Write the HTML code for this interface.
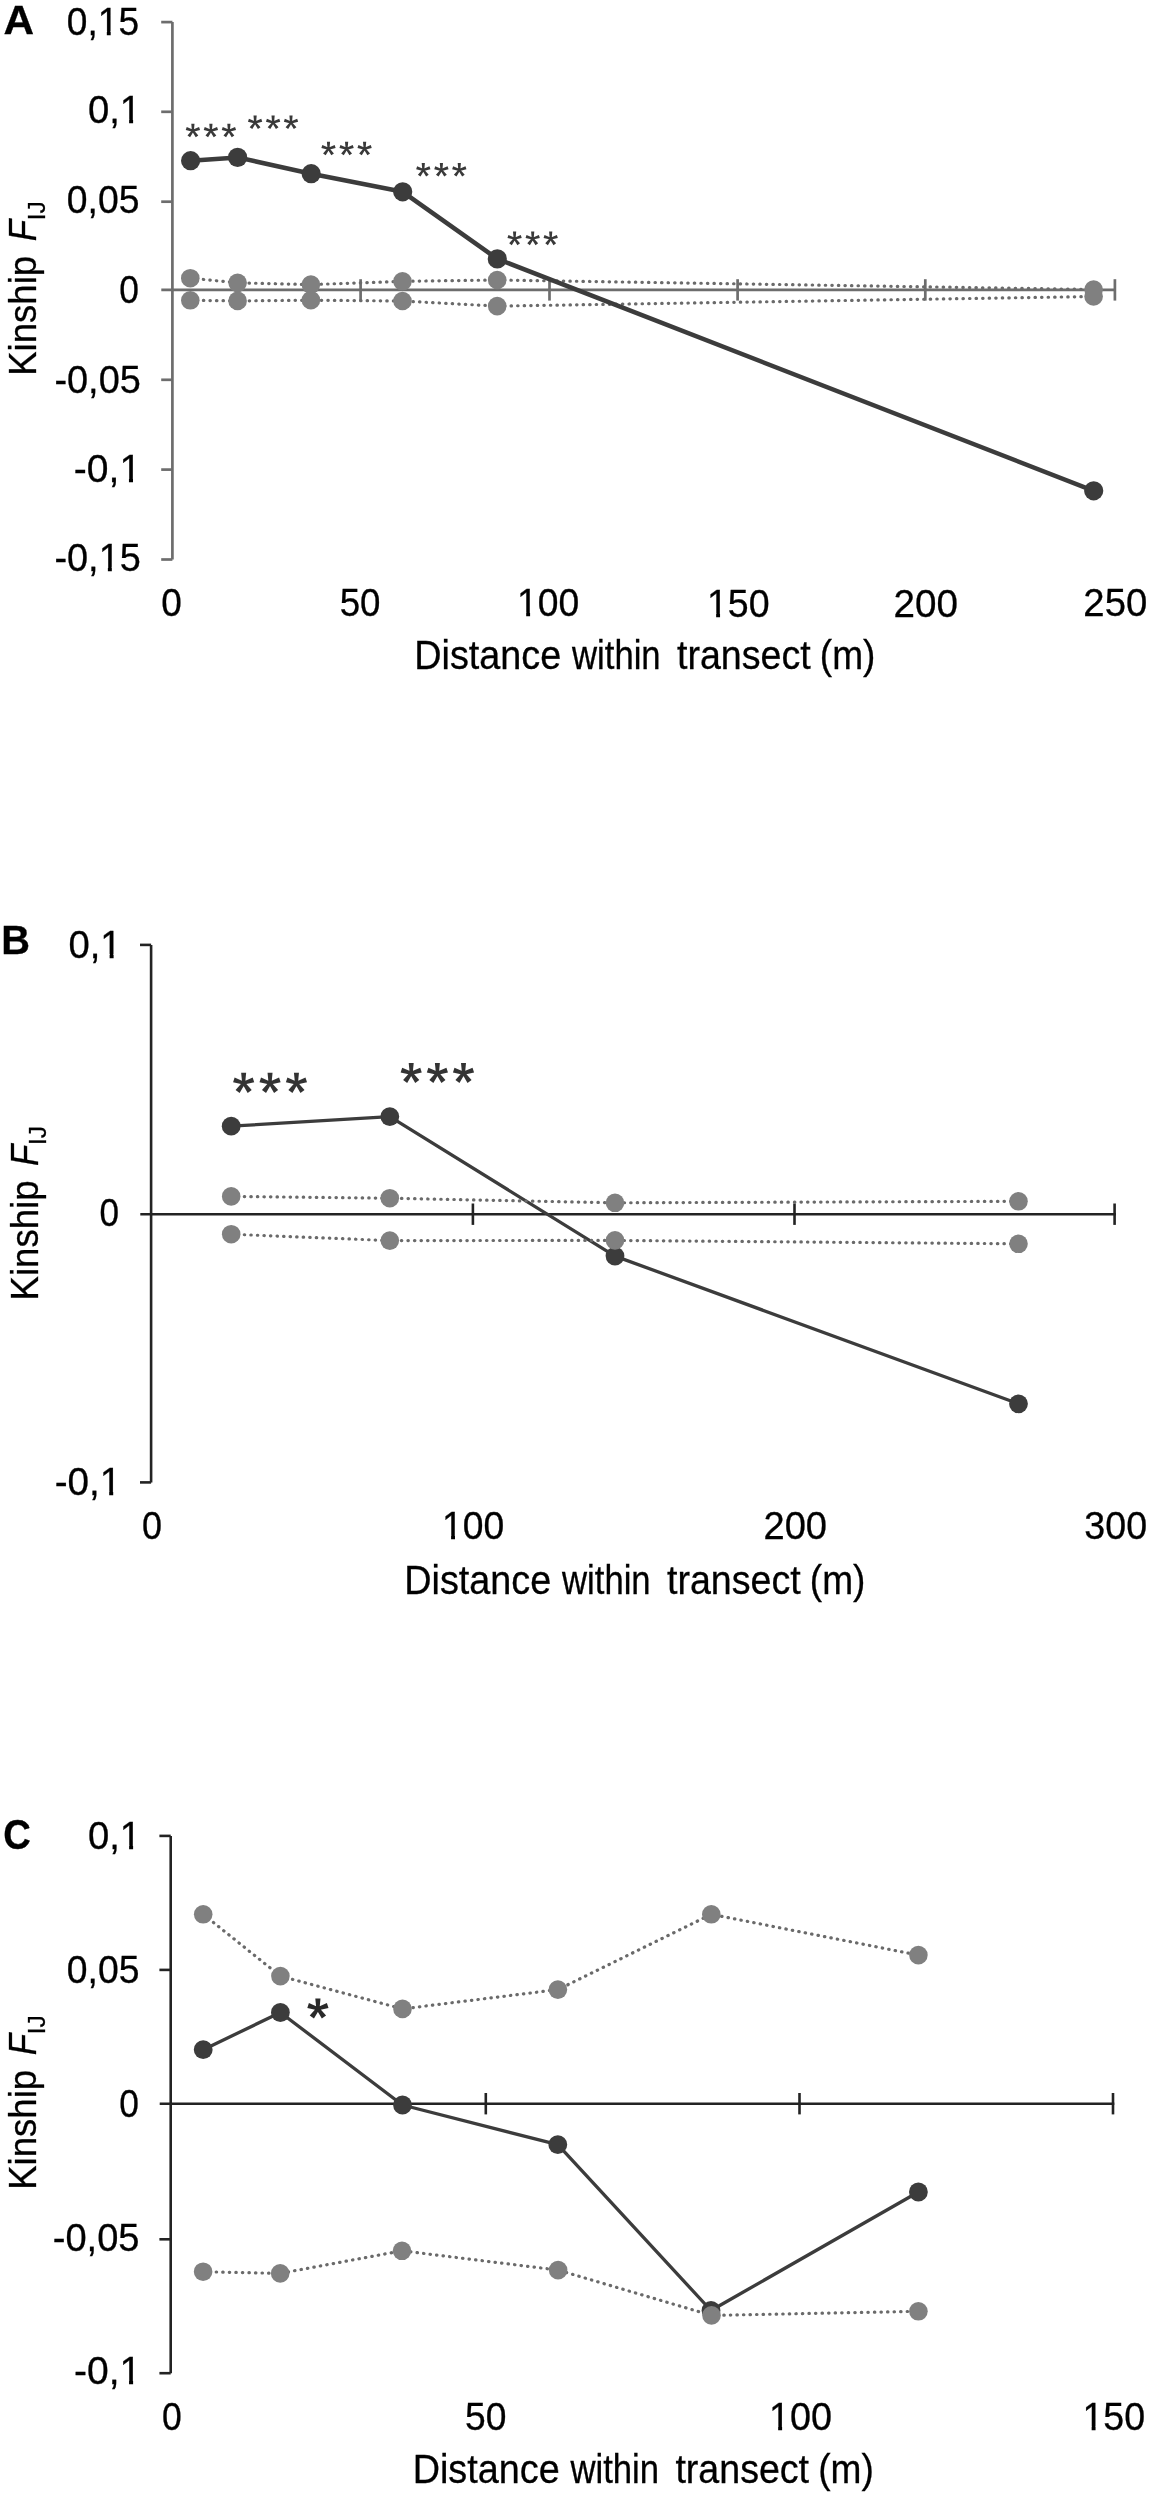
<!DOCTYPE html>
<html><head><meta charset="utf-8"><title>Kinship FIJ vs distance</title><style>
html,body{margin:0;padding:0;background:#fff;width:1154px;height:2500px;overflow:hidden;}
svg{display:block;filter:grayscale(1) blur(0.45px);}
text{font-family:"Liberation Sans",sans-serif;fill:#000;stroke:#000;stroke-width:0.3px;}
</style></head><body>
<svg width="1154" height="2500" viewBox="0 0 1154 2500">
<rect width="1154" height="2500" fill="#fff"/>
<text x="3.45" y="34.30" font-size="40.55" textLength="30.57" lengthAdjust="spacingAndGlyphs" font-weight="bold">A</text>
<line x1="172.4" y1="22.1" x2="172.4" y2="559.5" stroke="#6d6d6d" stroke-width="2.7" />
<line x1="161.2" y1="22.1" x2="172.4" y2="22.1" stroke="#6d6d6d" stroke-width="2.7" />
<line x1="161.2" y1="111.8" x2="172.4" y2="111.8" stroke="#6d6d6d" stroke-width="2.7" />
<line x1="161.2" y1="201.7" x2="172.4" y2="201.7" stroke="#6d6d6d" stroke-width="2.7" />
<line x1="161.2" y1="379.8" x2="172.4" y2="379.8" stroke="#6d6d6d" stroke-width="2.7" />
<line x1="161.2" y1="469.6" x2="172.4" y2="469.6" stroke="#6d6d6d" stroke-width="2.7" />
<line x1="161.2" y1="559.5" x2="172.4" y2="559.5" stroke="#6d6d6d" stroke-width="2.7" />
<text x="66.85" y="34.73" font-size="38.30" textLength="72.21" lengthAdjust="spacingAndGlyphs">0,15</text><rect x="99.31" y="31.07" width="7.51" height="5.46" fill="#fff"/><rect x="110.70" y="31.07" width="7.22" height="5.46" fill="#fff"/>
<text x="87.91" y="122.83" font-size="38.30" textLength="53.17" lengthAdjust="spacingAndGlyphs">0,1</text><rect x="121.40" y="119.17" width="7.72" height="5.46" fill="#fff"/><rect x="133.10" y="119.17" width="7.42" height="5.46" fill="#fff"/>
<text x="66.84" y="212.73" font-size="38.30" textLength="72.62" lengthAdjust="spacingAndGlyphs">0,05</text>
<text x="119.32" y="302.73" font-size="38.30" textLength="19.66" lengthAdjust="spacingAndGlyphs">0</text>
<text x="54.42" y="392.53" font-size="38.30" textLength="86.38" lengthAdjust="spacingAndGlyphs">-0,05</text>
<text x="73.87" y="482.33" font-size="38.30" textLength="67.28" lengthAdjust="spacingAndGlyphs">-0,1</text><rect x="121.09" y="478.67" width="7.86" height="5.46" fill="#fff"/><rect x="133.00" y="478.67" width="7.55" height="5.46" fill="#fff"/>
<text x="54.42" y="570.58" font-size="38.30" textLength="86.38" lengthAdjust="spacingAndGlyphs">-0,15</text><rect x="100.22" y="566.92" width="7.65" height="5.46" fill="#fff"/><rect x="111.82" y="566.92" width="7.36" height="5.46" fill="#fff"/>
<line x1="161.3" y1="289.9" x2="1116.0" y2="289.9" stroke="#6d6d6d" stroke-width="2.7" />
<line x1="360.6" y1="279.2" x2="360.6" y2="300.6" stroke="#6d6d6d" stroke-width="2.7" />
<line x1="549.5" y1="279.2" x2="549.5" y2="300.6" stroke="#6d6d6d" stroke-width="2.7" />
<line x1="737.6" y1="279.2" x2="737.6" y2="300.6" stroke="#6d6d6d" stroke-width="2.7" />
<line x1="925.3" y1="279.2" x2="925.3" y2="300.6" stroke="#6d6d6d" stroke-width="2.7" />
<line x1="1114.9" y1="279.2" x2="1114.9" y2="300.6" stroke="#6d6d6d" stroke-width="2.7" />
<text x="161.15" y="615.78" font-size="38.30" textLength="20.59" lengthAdjust="spacingAndGlyphs">0</text>
<text x="339.63" y="616.13" font-size="38.30" textLength="40.80" lengthAdjust="spacingAndGlyphs">50</text>
<text x="517.11" y="616.13" font-size="38.30" textLength="62.25" lengthAdjust="spacingAndGlyphs">100</text><rect x="518.64" y="612.47" width="7.55" height="5.46" fill="#fff"/><rect x="530.09" y="612.47" width="7.26" height="5.46" fill="#fff"/>
<text x="706.99" y="616.78" font-size="38.30" textLength="62.68" lengthAdjust="spacingAndGlyphs">150</text><rect x="708.54" y="613.12" width="7.60" height="5.46" fill="#fff"/><rect x="720.05" y="613.12" width="7.30" height="5.46" fill="#fff"/>
<text x="893.46" y="616.78" font-size="38.30" textLength="64.45" lengthAdjust="spacingAndGlyphs">200</text>
<text x="1083.37" y="615.83" font-size="38.30" textLength="63.92" lengthAdjust="spacingAndGlyphs">250</text>
<text x="414.30" y="669.15" font-size="39.80" textLength="146.98" lengthAdjust="spacingAndGlyphs">Distance</text>
<text x="572.05" y="669.15" font-size="39.80" textLength="88.60" lengthAdjust="spacingAndGlyphs">within</text>
<text x="677.03" y="669.15" font-size="39.80" textLength="133.64" lengthAdjust="spacingAndGlyphs">transect</text>
<text x="819.80" y="669.15" font-size="39.80" textLength="55.60" lengthAdjust="spacingAndGlyphs">(m)</text>
<g transform="rotate(-90)"><text x="-375.80" y="36.30" font-size="38.30" textLength="119.94" lengthAdjust="spacingAndGlyphs">Kinship</text><text x="-241.37" y="36.30" font-size="38.30" textLength="21.34" lengthAdjust="spacingAndGlyphs" font-style="italic">F</text><text x="-220.36" y="44.50" font-size="24.70" textLength="19.09" lengthAdjust="spacingAndGlyphs">IJ</text></g>
<polyline points="190.3,278.2 237.6,282.8 310.9,284.6 402.5,281.3 497.2,280.0 1093.6,289.5" fill="none" stroke="#6a6a6a" stroke-width="3.2" stroke-linejoin="round" stroke-dasharray="0.4 6.15" stroke-linecap="round"/>
<polyline points="190.3,300.3 237.6,300.9 310.9,300.2 402.5,301.0 497.2,306.1 1093.6,296.5" fill="none" stroke="#6a6a6a" stroke-width="3.2" stroke-linejoin="round" stroke-dasharray="0.4 6.15" stroke-linecap="round"/>
<circle cx="190.3" cy="278.2" r="9.3" fill="#808080"/>
<circle cx="237.6" cy="282.8" r="9.3" fill="#808080"/>
<circle cx="310.9" cy="284.6" r="9.3" fill="#808080"/>
<circle cx="402.5" cy="281.3" r="9.3" fill="#808080"/>
<circle cx="497.2" cy="280.0" r="9.3" fill="#808080"/>
<circle cx="1093.6" cy="289.5" r="9.3" fill="#808080"/>
<circle cx="190.3" cy="300.3" r="9.3" fill="#808080"/>
<circle cx="237.6" cy="300.9" r="9.3" fill="#808080"/>
<circle cx="310.9" cy="300.2" r="9.3" fill="#808080"/>
<circle cx="402.5" cy="301.0" r="9.3" fill="#808080"/>
<circle cx="497.2" cy="306.1" r="9.3" fill="#808080"/>
<circle cx="1093.6" cy="296.5" r="9.3" fill="#808080"/>
<polyline points="190.6,160.7 237.6,157.4 311.2,173.7 402.7,191.8 497.3,258.9 1093.7,490.8" fill="none" stroke="#3c3c3c" stroke-width="4.5" stroke-linejoin="round" />
<circle cx="190.6" cy="160.7" r="9.6" fill="#3c3c3c"/>
<circle cx="237.6" cy="157.4" r="9.6" fill="#3c3c3c"/>
<circle cx="311.2" cy="173.7" r="9.6" fill="#3c3c3c"/>
<circle cx="402.7" cy="191.8" r="9.6" fill="#3c3c3c"/>
<circle cx="497.3" cy="258.9" r="9.6" fill="#3c3c3c"/>
<circle cx="1093.7" cy="490.8" r="9.6" fill="#3c3c3c"/>
<path d="M193.90,130.70L194.50,123.70L191.30,123.70L191.90,130.70ZM193.21,131.65L200.05,130.06L199.06,127.02L192.59,129.75ZM192.09,131.29L195.72,137.30L198.31,135.42L193.71,130.11ZM192.09,130.11L187.49,135.42L190.08,137.30L193.71,131.29ZM193.21,129.75L186.74,127.02L185.75,130.06L192.59,131.65Z" fill="#393939"/>
<path d="M211.90,130.70L212.50,123.70L209.30,123.70L209.90,130.70ZM211.21,131.65L218.05,130.06L217.06,127.02L210.59,129.75ZM210.09,131.29L213.72,137.30L216.31,135.42L211.71,130.11ZM210.09,130.11L205.49,135.42L208.08,137.30L211.71,131.29ZM211.21,129.75L204.74,127.02L203.75,130.06L210.59,131.65Z" fill="#393939"/>
<path d="M229.90,130.70L230.50,123.70L227.30,123.70L227.90,130.70ZM229.21,131.65L236.05,130.06L235.06,127.02L228.59,129.75ZM228.09,131.29L231.72,137.30L234.31,135.42L229.71,130.11ZM228.09,130.11L223.49,135.42L226.08,137.30L229.71,131.29ZM229.21,129.75L222.74,127.02L221.75,130.06L228.59,131.65Z" fill="#393939"/>
<path d="M256.10,122.50L256.70,115.50L253.50,115.50L254.10,122.50ZM255.41,123.45L262.25,121.86L261.26,118.82L254.79,121.55ZM254.29,123.09L257.92,129.10L260.51,127.22L255.91,121.91ZM254.29,121.91L249.69,127.22L252.28,129.10L255.91,123.09ZM255.41,121.55L248.94,118.82L247.95,121.86L254.79,123.45Z" fill="#393939"/>
<path d="M274.10,122.50L274.70,115.50L271.50,115.50L272.10,122.50ZM273.41,123.45L280.25,121.86L279.26,118.82L272.79,121.55ZM272.29,123.09L275.92,129.10L278.51,127.22L273.91,121.91ZM272.29,121.91L267.69,127.22L270.28,129.10L273.91,123.09ZM273.41,121.55L266.94,118.82L265.95,121.86L272.79,123.45Z" fill="#393939"/>
<path d="M292.00,122.50L292.60,115.50L289.40,115.50L290.00,122.50ZM291.31,123.45L298.15,121.86L297.16,118.82L290.69,121.55ZM290.19,123.09L293.82,129.10L296.41,127.22L291.81,121.91ZM290.19,121.91L285.59,127.22L288.18,129.10L291.81,123.09ZM291.31,121.55L284.84,118.82L283.85,121.86L290.69,123.45Z" fill="#393939"/>
<path d="M329.50,148.70L330.10,141.70L326.90,141.70L327.50,148.70ZM328.81,149.65L335.65,148.06L334.66,145.02L328.19,147.75ZM327.69,149.29L331.32,155.30L333.91,153.42L329.31,148.11ZM327.69,148.11L323.09,153.42L325.68,155.30L329.31,149.29ZM328.81,147.75L322.34,145.02L321.35,148.06L328.19,149.65Z" fill="#393939"/>
<path d="M347.60,148.70L348.20,141.70L345.00,141.70L345.60,148.70ZM346.91,149.65L353.75,148.06L352.76,145.02L346.29,147.75ZM345.79,149.29L349.42,155.30L352.01,153.42L347.41,148.11ZM345.79,148.11L341.19,153.42L343.78,155.30L347.41,149.29ZM346.91,147.75L340.44,145.02L339.45,148.06L346.29,149.65Z" fill="#393939"/>
<path d="M365.60,148.70L366.20,141.70L363.00,141.70L363.60,148.70ZM364.91,149.65L371.75,148.06L370.76,145.02L364.29,147.75ZM363.79,149.29L367.42,155.30L370.01,153.42L365.41,148.11ZM363.79,148.11L359.19,153.42L361.78,155.30L365.41,149.29ZM364.91,147.75L358.44,145.02L357.45,148.06L364.29,149.65Z" fill="#393939"/>
<path d="M424.30,170.00L424.90,163.00L421.70,163.00L422.30,170.00ZM423.61,170.95L430.45,169.36L429.46,166.32L422.99,169.05ZM422.49,170.59L426.12,176.60L428.71,174.72L424.11,169.41ZM422.49,169.41L417.89,174.72L420.48,176.60L424.11,170.59ZM423.61,169.05L417.14,166.32L416.15,169.36L422.99,170.95Z" fill="#393939"/>
<path d="M442.40,170.00L443.00,163.00L439.80,163.00L440.40,170.00ZM441.71,170.95L448.55,169.36L447.56,166.32L441.09,169.05ZM440.59,170.59L444.22,176.60L446.81,174.72L442.21,169.41ZM440.59,169.41L435.99,174.72L438.58,176.60L442.21,170.59ZM441.71,169.05L435.24,166.32L434.25,169.36L441.09,170.95Z" fill="#393939"/>
<path d="M460.30,170.00L460.90,163.00L457.70,163.00L458.30,170.00ZM459.61,170.95L466.45,169.36L465.46,166.32L458.99,169.05ZM458.49,170.59L462.12,176.60L464.71,174.72L460.11,169.41ZM458.49,169.41L453.89,174.72L456.48,176.60L460.11,170.59ZM459.61,169.05L453.14,166.32L452.15,169.36L458.99,170.95Z" fill="#393939"/>
<path d="M515.60,238.60L516.20,231.60L513.00,231.60L513.60,238.60ZM514.91,239.55L521.75,237.96L520.76,234.92L514.29,237.65ZM513.79,239.19L517.42,245.20L520.01,243.32L515.41,238.01ZM513.79,238.01L509.19,243.32L511.78,245.20L515.41,239.19ZM514.91,237.65L508.44,234.92L507.45,237.96L514.29,239.55Z" fill="#393939"/>
<path d="M533.70,238.60L534.30,231.60L531.10,231.60L531.70,238.60ZM533.01,239.55L539.85,237.96L538.86,234.92L532.39,237.65ZM531.89,239.19L535.52,245.20L538.11,243.32L533.51,238.01ZM531.89,238.01L527.29,243.32L529.88,245.20L533.51,239.19ZM533.01,237.65L526.54,234.92L525.55,237.96L532.39,239.55Z" fill="#393939"/>
<path d="M551.70,238.60L552.30,231.60L549.10,231.60L549.70,238.60ZM551.01,239.55L557.85,237.96L556.86,234.92L550.39,237.65ZM549.89,239.19L553.52,245.20L556.11,243.32L551.51,238.01ZM549.89,238.01L545.29,243.32L547.88,245.20L551.51,239.19ZM551.01,237.65L544.54,234.92L543.55,237.96L550.39,239.55Z" fill="#393939"/>
<text x="1.33" y="954.30" font-size="41.28" textLength="28.77" lengthAdjust="spacingAndGlyphs" font-weight="bold">B</text>
<line x1="151.1" y1="944.9" x2="151.1" y2="1482.4" stroke="#232323" stroke-width="2.6" />
<line x1="140.0" y1="944.9" x2="151.1" y2="944.9" stroke="#232323" stroke-width="2.6" />
<line x1="140.0" y1="1482.4" x2="151.1" y2="1482.4" stroke="#232323" stroke-width="2.6" />
<text x="68.41" y="957.73" font-size="38.30" textLength="53.17" lengthAdjust="spacingAndGlyphs">0,1</text><rect x="101.90" y="954.07" width="7.72" height="5.46" fill="#fff"/><rect x="113.60" y="954.07" width="7.42" height="5.46" fill="#fff"/>
<text x="99.53" y="1225.68" font-size="38.30" textLength="19.55" lengthAdjust="spacingAndGlyphs">0</text>
<text x="54.68" y="1495.18" font-size="38.30" textLength="66.57" lengthAdjust="spacingAndGlyphs">-0,1</text><rect x="101.40" y="1491.52" width="7.79" height="5.46" fill="#fff"/><rect x="113.20" y="1491.52" width="7.48" height="5.46" fill="#fff"/>
<line x1="140.3" y1="1214.2" x2="1115.9" y2="1214.2" stroke="#232323" stroke-width="2.6" />
<line x1="472.9" y1="1203.5" x2="472.9" y2="1224.9" stroke="#232323" stroke-width="2.6" />
<line x1="794.5" y1="1203.5" x2="794.5" y2="1224.9" stroke="#232323" stroke-width="2.6" />
<line x1="1114.6" y1="1203.5" x2="1114.6" y2="1224.9" stroke="#232323" stroke-width="2.6" />
<text x="142.09" y="1538.93" font-size="38.30" textLength="20.01" lengthAdjust="spacingAndGlyphs">0</text>
<text x="442.01" y="1539.13" font-size="38.30" textLength="62.25" lengthAdjust="spacingAndGlyphs">100</text><rect x="443.54" y="1535.47" width="7.55" height="5.46" fill="#fff"/><rect x="454.99" y="1535.47" width="7.26" height="5.46" fill="#fff"/>
<text x="763.48" y="1539.13" font-size="38.30" textLength="63.61" lengthAdjust="spacingAndGlyphs">200</text>
<text x="1084.37" y="1538.98" font-size="38.30" textLength="62.70" lengthAdjust="spacingAndGlyphs">300</text>
<text x="404.30" y="1593.60" font-size="39.80" textLength="146.98" lengthAdjust="spacingAndGlyphs">Distance</text>
<text x="562.05" y="1593.60" font-size="39.80" textLength="88.60" lengthAdjust="spacingAndGlyphs">within</text>
<text x="667.03" y="1593.60" font-size="39.80" textLength="133.64" lengthAdjust="spacingAndGlyphs">transect</text>
<text x="809.80" y="1593.60" font-size="39.80" textLength="55.60" lengthAdjust="spacingAndGlyphs">(m)</text>
<g transform="rotate(-90)"><text x="-1300.40" y="37.80" font-size="38.30" textLength="119.94" lengthAdjust="spacingAndGlyphs">Kinship</text><text x="-1165.97" y="37.80" font-size="38.30" textLength="21.34" lengthAdjust="spacingAndGlyphs" font-style="italic">F</text><text x="-1144.96" y="46.00" font-size="24.70" textLength="19.09" lengthAdjust="spacingAndGlyphs">IJ</text></g>
<polyline points="231.2,1126.2 389.8,1116.6 615.0,1256.1 1018.5,1403.8" fill="none" stroke="#3c3c3c" stroke-width="3.3" stroke-linejoin="round" />
<circle cx="231.2" cy="1126.2" r="9.4" fill="#3c3c3c"/>
<circle cx="389.8" cy="1116.6" r="9.4" fill="#3c3c3c"/>
<circle cx="615.0" cy="1256.1" r="9.4" fill="#3c3c3c"/>
<circle cx="1018.5" cy="1403.8" r="9.4" fill="#3c3c3c"/>
<polyline points="231.2,1196.4 389.8,1198.2 615.0,1202.8 1018.5,1201.3" fill="none" stroke="#6a6a6a" stroke-width="3.2" stroke-linejoin="round" stroke-dasharray="0.4 6.15" stroke-linecap="round"/>
<polyline points="231.2,1234.2 389.8,1240.6 615.0,1240.4 1018.5,1243.8" fill="none" stroke="#6a6a6a" stroke-width="3.2" stroke-linejoin="round" stroke-dasharray="0.4 6.15" stroke-linecap="round"/>
<circle cx="231.2" cy="1196.4" r="9.3" fill="#808080"/>
<circle cx="389.8" cy="1198.2" r="9.3" fill="#808080"/>
<circle cx="615.0" cy="1202.8" r="9.3" fill="#808080"/>
<circle cx="1018.5" cy="1201.3" r="9.3" fill="#808080"/>
<circle cx="231.2" cy="1234.2" r="9.3" fill="#808080"/>
<circle cx="389.8" cy="1240.6" r="9.3" fill="#808080"/>
<circle cx="615.0" cy="1240.4" r="9.3" fill="#808080"/>
<circle cx="1018.5" cy="1243.8" r="9.3" fill="#808080"/>
<path d="M245.15,1083.10L246.15,1072.80L241.15,1072.80L242.15,1083.10ZM244.11,1084.53L254.22,1082.29L252.67,1077.54L243.19,1081.67ZM242.44,1083.98L247.68,1092.90L251.73,1089.96L244.86,1082.22ZM242.44,1082.22L235.57,1089.96L239.62,1092.90L244.86,1083.98ZM244.11,1081.67L234.63,1077.54L233.08,1082.29L243.19,1084.53Z" fill="#333333"/>
<path d="M271.55,1083.10L272.55,1072.80L267.55,1072.80L268.55,1083.10ZM270.51,1084.53L280.62,1082.29L279.07,1077.54L269.59,1081.67ZM268.84,1083.98L274.08,1092.90L278.13,1089.96L271.26,1082.22ZM268.84,1082.22L261.97,1089.96L266.02,1092.90L271.26,1083.98ZM270.51,1081.67L261.03,1077.54L259.48,1082.29L269.59,1084.53Z" fill="#333333"/>
<path d="M297.95,1083.10L298.95,1072.80L293.95,1072.80L294.95,1083.10ZM296.91,1084.53L307.02,1082.29L305.47,1077.54L295.99,1081.67ZM295.24,1083.98L300.48,1092.90L304.53,1089.96L297.66,1082.22ZM295.24,1082.22L288.37,1089.96L292.42,1092.90L297.66,1083.98ZM296.91,1081.67L287.43,1077.54L285.88,1082.29L295.99,1084.53Z" fill="#333333"/>
<path d="M412.70,1073.20L413.70,1062.90L408.70,1062.90L409.70,1073.20ZM411.66,1074.63L421.77,1072.39L420.22,1067.64L410.74,1071.77ZM409.99,1074.08L415.23,1083.00L419.28,1080.06L412.41,1072.32ZM409.99,1072.32L403.12,1080.06L407.17,1083.00L412.41,1074.08ZM411.66,1071.77L402.18,1067.64L400.63,1072.39L410.74,1074.63Z" fill="#333333"/>
<path d="M438.90,1073.20L439.90,1062.90L434.90,1062.90L435.90,1073.20ZM437.86,1074.63L447.97,1072.39L446.42,1067.64L436.94,1071.77ZM436.19,1074.08L441.43,1083.00L445.48,1080.06L438.61,1072.32ZM436.19,1072.32L429.32,1080.06L433.37,1083.00L438.61,1074.08ZM437.86,1071.77L428.38,1067.64L426.83,1072.39L436.94,1074.63Z" fill="#333333"/>
<path d="M465.00,1073.20L466.00,1062.90L461.00,1062.90L462.00,1073.20ZM463.96,1074.63L474.07,1072.39L472.52,1067.64L463.04,1071.77ZM462.29,1074.08L467.53,1083.00L471.58,1080.06L464.71,1072.32ZM462.29,1072.32L455.42,1080.06L459.47,1083.00L464.71,1074.08ZM463.96,1071.77L454.48,1067.64L452.93,1072.39L463.04,1074.63Z" fill="#333333"/>
<text x="3.13" y="1849.09" font-size="42.09" textLength="27.61" lengthAdjust="spacingAndGlyphs" font-weight="bold">C</text>
<line x1="170.7" y1="1835.9" x2="170.7" y2="2373.2" stroke="#232323" stroke-width="2.6" />
<line x1="159.4" y1="1835.9" x2="170.7" y2="1835.9" stroke="#232323" stroke-width="2.6" />
<line x1="159.4" y1="1969.9" x2="170.7" y2="1969.9" stroke="#232323" stroke-width="2.6" />
<line x1="159.4" y1="2239.3" x2="170.7" y2="2239.3" stroke="#232323" stroke-width="2.6" />
<line x1="159.4" y1="2373.2" x2="170.7" y2="2373.2" stroke="#232323" stroke-width="2.6" />
<text x="87.91" y="1848.63" font-size="38.30" textLength="53.17" lengthAdjust="spacingAndGlyphs">0,1</text><rect x="121.40" y="1844.97" width="7.72" height="5.46" fill="#fff"/><rect x="133.10" y="1844.97" width="7.42" height="5.46" fill="#fff"/>
<text x="66.84" y="1982.73" font-size="38.30" textLength="72.62" lengthAdjust="spacingAndGlyphs">0,05</text>
<text x="119.32" y="2116.73" font-size="38.30" textLength="19.66" lengthAdjust="spacingAndGlyphs">0</text>
<text x="52.71" y="2250.78" font-size="38.30" textLength="86.79" lengthAdjust="spacingAndGlyphs">-0,05</text>
<text x="73.97" y="2384.33" font-size="38.30" textLength="67.28" lengthAdjust="spacingAndGlyphs">-0,1</text><rect x="121.19" y="2380.67" width="7.86" height="5.46" fill="#fff"/><rect x="133.10" y="2380.67" width="7.55" height="5.46" fill="#fff"/>
<line x1="159.7" y1="2103.7" x2="1114.3" y2="2103.7" stroke="#232323" stroke-width="2.6" />
<line x1="485.8" y1="2093.0" x2="485.8" y2="2114.4" stroke="#232323" stroke-width="2.6" />
<line x1="799.5" y1="2093.0" x2="799.5" y2="2114.4" stroke="#232323" stroke-width="2.6" />
<line x1="1113.0" y1="2093.0" x2="1113.0" y2="2114.4" stroke="#232323" stroke-width="2.6" />
<text x="161.91" y="2430.23" font-size="38.30" textLength="19.78" lengthAdjust="spacingAndGlyphs">0</text>
<text x="465.01" y="2429.93" font-size="38.30" textLength="41.45" lengthAdjust="spacingAndGlyphs">50</text>
<text x="768.97" y="2430.33" font-size="38.30" textLength="63.01" lengthAdjust="spacingAndGlyphs">100</text><rect x="770.53" y="2426.67" width="7.63" height="5.46" fill="#fff"/><rect x="782.10" y="2426.67" width="7.34" height="5.46" fill="#fff"/>
<text x="1082.49" y="2430.23" font-size="38.30" textLength="62.68" lengthAdjust="spacingAndGlyphs">150</text><rect x="1084.04" y="2426.57" width="7.60" height="5.46" fill="#fff"/><rect x="1095.55" y="2426.57" width="7.30" height="5.46" fill="#fff"/>
<text x="412.70" y="2482.50" font-size="39.80" textLength="146.98" lengthAdjust="spacingAndGlyphs">Distance</text>
<text x="570.45" y="2482.50" font-size="39.80" textLength="88.60" lengthAdjust="spacingAndGlyphs">within</text>
<text x="675.43" y="2482.50" font-size="39.80" textLength="133.64" lengthAdjust="spacingAndGlyphs">transect</text>
<text x="818.20" y="2482.50" font-size="39.80" textLength="55.60" lengthAdjust="spacingAndGlyphs">(m)</text>
<g transform="rotate(-90)"><text x="-2189.80" y="36.30" font-size="38.30" textLength="119.94" lengthAdjust="spacingAndGlyphs">Kinship</text><text x="-2055.37" y="36.30" font-size="38.30" textLength="21.34" lengthAdjust="spacingAndGlyphs" font-style="italic">F</text><text x="-2034.36" y="44.50" font-size="24.70" textLength="19.09" lengthAdjust="spacingAndGlyphs">IJ</text></g>
<polyline points="203.2,2049.7 280.4,2012.5 402.5,2105.0 557.8,2144.7 711.0,2310.5 918.4,2192.0" fill="none" stroke="#3c3c3c" stroke-width="3.3" stroke-linejoin="round" />
<circle cx="203.2" cy="2049.7" r="9.4" fill="#3c3c3c"/>
<circle cx="280.4" cy="2012.5" r="9.4" fill="#3c3c3c"/>
<circle cx="402.5" cy="2105.0" r="9.4" fill="#3c3c3c"/>
<circle cx="557.8" cy="2144.7" r="9.4" fill="#3c3c3c"/>
<circle cx="711.0" cy="2310.5" r="9.4" fill="#3c3c3c"/>
<circle cx="918.4" cy="2192.0" r="9.4" fill="#3c3c3c"/>
<polyline points="203.2,1914.3 280.4,1976.1 402.5,2008.9 557.9,1989.6 711.3,1914.3 918.4,1955.1" fill="none" stroke="#6a6a6a" stroke-width="3.2" stroke-linejoin="round" stroke-dasharray="0.4 6.15" stroke-linecap="round"/>
<polyline points="203.1,2271.7 280.2,2273.4 402.0,2250.8 558.1,2270.1 711.5,2315.4 918.4,2311.3" fill="none" stroke="#6a6a6a" stroke-width="3.2" stroke-linejoin="round" stroke-dasharray="0.4 6.15" stroke-linecap="round"/>
<circle cx="203.2" cy="1914.3" r="9.3" fill="#808080"/>
<circle cx="280.4" cy="1976.1" r="9.3" fill="#808080"/>
<circle cx="402.5" cy="2008.9" r="9.3" fill="#808080"/>
<circle cx="557.9" cy="1989.6" r="9.3" fill="#808080"/>
<circle cx="711.3" cy="1914.3" r="9.3" fill="#808080"/>
<circle cx="918.4" cy="1955.1" r="9.3" fill="#808080"/>
<circle cx="203.1" cy="2271.7" r="9.3" fill="#808080"/>
<circle cx="280.2" cy="2273.4" r="9.3" fill="#808080"/>
<circle cx="402.0" cy="2250.8" r="9.3" fill="#808080"/>
<circle cx="558.1" cy="2270.1" r="9.3" fill="#808080"/>
<circle cx="711.5" cy="2315.4" r="9.3" fill="#808080"/>
<circle cx="918.4" cy="2311.3" r="9.3" fill="#808080"/>
<path d="M319.50,2008.70L320.50,1998.40L315.30,1998.40L316.30,2008.70ZM318.39,2010.22L328.50,2007.99L326.89,2003.04L317.41,2007.18ZM316.61,2009.64L321.85,2018.56L326.06,2015.50L319.19,2007.76ZM316.61,2007.76L309.74,2015.50L313.95,2018.56L319.19,2009.64ZM318.39,2007.18L308.91,2003.04L307.30,2007.99L317.41,2010.22Z" fill="#2a2a2a"/>
</svg>
</body></html>
